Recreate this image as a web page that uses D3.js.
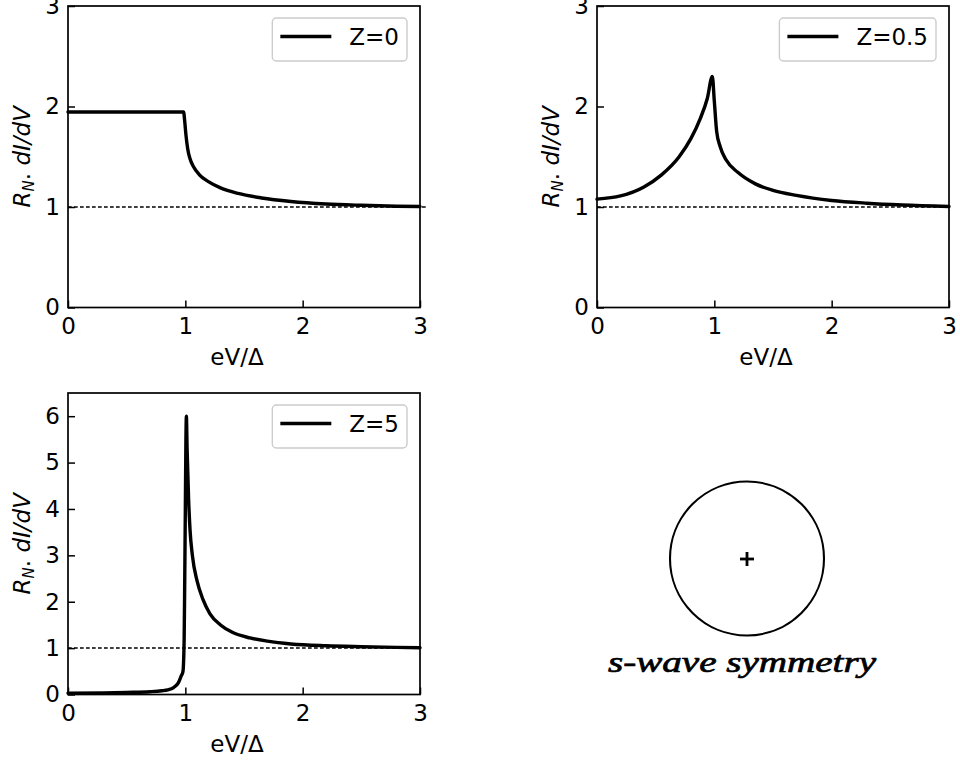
<!DOCTYPE html>
<html>
<head>
<meta charset="utf-8">
<script src="https://cdn.jsdelivr.net/npm/d3@7"></script>
<style>
  body { margin: 0; background: #fff; }
  svg { display: block; font-family: "DejaVu Sans", sans-serif; }
</style>
</head>
<body>
<div id="chart"></div>
<script>
// tick values
const xTicks = [0, 1, 2, 3];
const yTicksSmall = [0, 1, 2, 3];
const yTicksLarge = [0, 1, 2, 3, 4, 5, 6];

// Z = 0 curve
const z0V = [0, 0.985, 0.995, 1.005, 1.02, 1.04, 1.07, 1.12, 1.2, 1.3, 1.45, 1.65, 1.9, 2.2, 2.5, 2.8, 3.0];
const z0G = [1.945, 1.945, 1.85, 1.72, 1.58, 1.48, 1.40, 1.32, 1.25, 1.19, 1.135, 1.09, 1.055, 1.03, 1.017, 1.008, 1.005];

// Z = 0.5 curve
const z05V = [0, 0.2, 0.4, 0.55, 0.7, 0.8, 0.88, 0.94, 0.983, 1.0, 1.02, 1.05, 1.1, 1.2, 1.35, 1.5, 1.7, 2.0, 2.3, 2.6, 3.0];
const z05G = [1.078, 1.11, 1.2, 1.32, 1.5, 1.68, 1.88, 2.08, 2.30, 2.05, 1.75, 1.6, 1.47, 1.345, 1.23, 1.165, 1.115, 1.065, 1.038, 1.02, 1.005];

// Z = 5 curve
const z5V = [0, 0.3, 0.5, 0.7, 0.8, 0.85, 0.9, 0.94, 0.965, 0.98, 0.99, 0.995, 1.0, 1.005, 1.009, 1.015, 1.028, 1.04, 1.06, 1.1, 1.15, 1.21, 1.3, 1.4, 1.55, 1.7, 1.9, 2.2, 2.5, 2.8, 3.0];
const z5G = [0.03, 0.035, 0.045, 0.06, 0.08, 0.1, 0.15, 0.25, 0.4, 0.5, 1.2, 2.5, 4.0, 5.5, 6.0, 5.3, 4.2, 3.55, 3.0, 2.45, 2.05, 1.74, 1.5, 1.34, 1.22, 1.15, 1.09, 1.05, 1.03, 1.015, 1.007];

// normal-state reference level
const refG = 1;

const W = 960, H = 761;
const FS = 23;
const svg = d3.select('#chart').append('svg').attr('width', W).attr('height', H);

function drawPanel(p) {
  const x = d3.scaleLinear().domain([0, 3]).range([p.left, p.right]);
  const y = d3.scaleLinear().domain([0, p.ymax]).range([p.bottom, p.top]);
  const g = svg.append('g');

  // x axis, ticks pointing inward
  const xa = g.append('g')
    .attr('transform', `translate(0,${p.bottom})`)
    .call(d3.axisBottom(x).tickValues(xTicks).tickSize(-7).tickPadding(10).tickFormat(d3.format('d')));
  const ya = g.append('g')
    .attr('transform', `translate(${p.left},0)`)
    .call(d3.axisLeft(y).tickValues(p.yTicks).tickSize(-7).tickPadding(8).tickFormat(d3.format('d')));
  [xa, ya].forEach(a => {
    a.select('.domain').remove();
    a.selectAll('line').attr('stroke', '#000').attr('stroke-width', 1.5);
    a.selectAll('text').attr('font-size', FS).attr('fill', '#000').attr('font-family', 'DejaVu Sans');
  });

  // dotted normal-state line
  g.append('path')
    .datum(p.refX)
    .attr('fill', 'none')
    .attr('stroke', '#000')
    .attr('stroke-width', 1.5)
    .attr('stroke-dasharray', '3.7,2.3')
    .attr('d', d3.line().x(d => x(d)).y(() => y(refG)));

  // conductance curve
  const pts = p.vs.map((v, i) => [v, p.gs[i]]);
  g.append('path')
    .datum(pts)
    .attr('fill', 'none')
    .attr('stroke', '#000')
    .attr('stroke-width', 3.4)
    .attr('stroke-linejoin', 'round')
    .attr('stroke-linecap', 'round')
    .attr('d', d3.line().x(d => x(d[0])).y(d => y(d[1])).curve(d3.curveMonotoneX));

  // frame
  g.append('rect')
    .attr('x', p.left).attr('y', p.top)
    .attr('width', p.right - p.left).attr('height', p.bottom - p.top)
    .attr('fill', 'none').attr('stroke', '#000').attr('stroke-width', 1.7);

  // legend
  const lg = g.append('g');
  const box = lg.append('rect')
    .attr('fill', '#fff').attr('fill-opacity', 0.8)
    .attr('stroke', '#ccc').attr('stroke-width', 1.4)
    .attr('rx', 4).attr('ry', 4);
  const txt = lg.append('text')
    .attr('font-size', FS)
    .attr('fill', '#000')
    .text(p.label);
  const tw = txt.node().getComputedTextLength();
  const bw = 8 + 51 + 18 + tw + 8;
  const bx = p.right - 13 - bw, by = p.top + 12, bh = 43;
  box.attr('x', bx).attr('y', by).attr('width', bw).attr('height', bh);
  lg.append('line')
    .attr('x1', bx + 8).attr('x2', bx + 59)
    .attr('y1', by + bh / 2 - 3).attr('y2', by + bh / 2 - 3)
    .attr('stroke', '#000').attr('stroke-width', 3.4);
  txt.attr('x', bx + 77).attr('y', by + bh / 2 + 5.5);

  // axis labels
  g.append('text')
    .attr('x', (p.left + p.right) / 2 - 7)
    .attr('y', p.bottom + 57)
    .attr('text-anchor', 'middle')
    .attr('font-size', FS)
    .text('eV/Δ');

  const yl = g.append('text')
    .attr('transform', `translate(${p.left - 38},${(p.top + p.bottom) / 2}) rotate(-90)`)
    .attr('text-anchor', 'middle')
    .attr('font-size', FS)
    .attr('font-style', 'italic');
  yl.append('tspan').text('R');
  yl.append('tspan').attr('font-size', 15).attr('dy', 4).text('N');
  yl.append('tspan').attr('dy', -4).attr('font-style', 'normal').text('. ');
  yl.append('tspan').text('dI/dV');
}

drawPanel({ left: 68, right: 420, top: 6, bottom: 307.5, ymax: 3, yTicks: yTicksSmall,
  vs: z0V, gs: z0G, label: 'Z=0', refX: [0, 3.05] });
drawPanel({ left: 597, right: 949, top: 6, bottom: 307.5, ymax: 3, yTicks: yTicksSmall,
  vs: z05V, gs: z05G, label: 'Z=0.5', refX: [0, 3] });
drawPanel({ left: 68, right: 420, top: 393, bottom: 694.5, ymax: 6.5, yTicks: yTicksLarge,
  vs: z5V, gs: z5G, label: 'Z=5', refX: [0, 3] });

// s-wave gap sketch: isotropic circle with a + sign
const cx = 747, cy = 558.5, r = 77;
const sg = svg.append('g');
sg.append('circle')
  .attr('cx', cx).attr('cy', cy).attr('r', r)
  .attr('fill', 'none').attr('stroke', '#000').attr('stroke-width', 2.1);
sg.append('line').attr('x1', cx - 7).attr('x2', cx + 7).attr('y1', cy + 0.5).attr('y2', cy + 0.5)
  .attr('stroke', '#000').attr('stroke-width', 2.8);
sg.append('line').attr('x1', cx).attr('x2', cx).attr('y1', cy - 6.5).attr('y2', cy + 7.5)
  .attr('stroke', '#000').attr('stroke-width', 2.8);
sg.append('text')
  .attr('x', 608).attr('y', 672)
  .attr('font-family', '"Liberation Serif", serif')
  .attr('font-style', 'italic')
  .attr('font-size', 30)
  .attr('fill', '#000')
  .attr('stroke', '#000')
  .attr('stroke-width', 0.7)
  .attr('textLength', 268)
  .attr('lengthAdjust', 'spacingAndGlyphs')
  .text('s-wave symmetry');
</script>
</body>
</html>
